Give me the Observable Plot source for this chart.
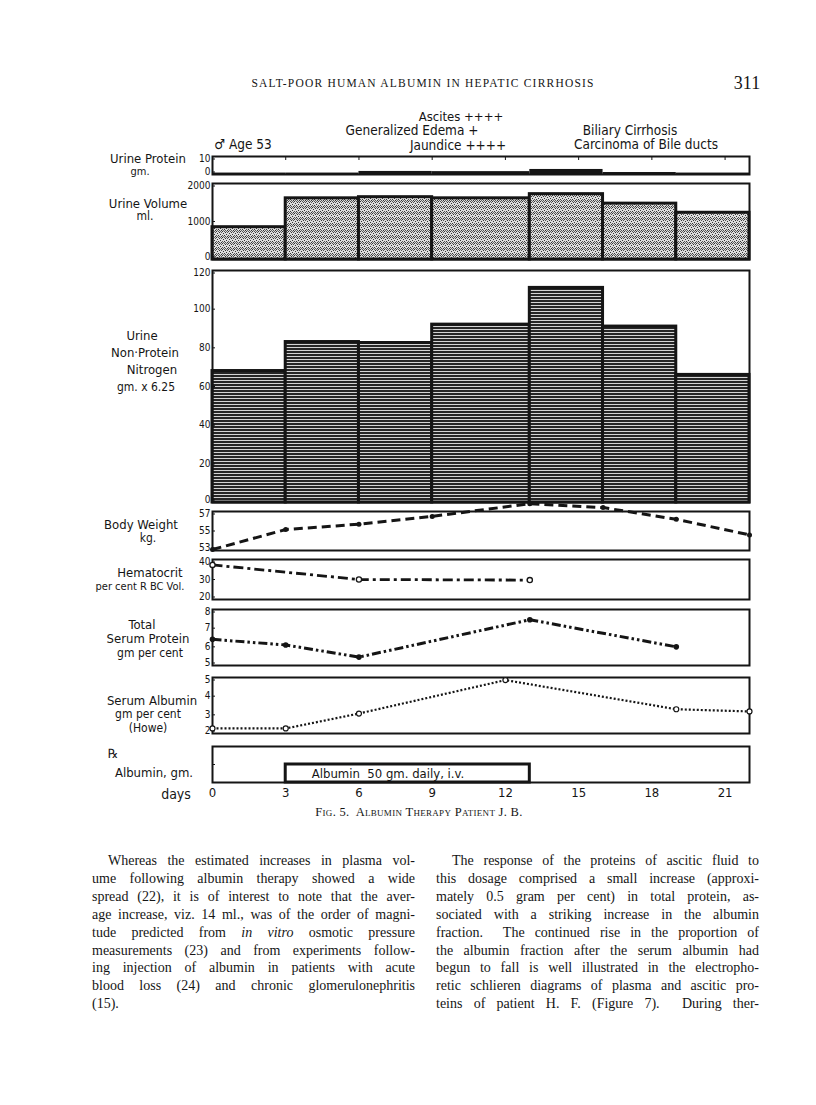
<!DOCTYPE html>
<html><head><meta charset="utf-8">
<script src="https://cdn.jsdelivr.net/npm/d3@7"></script>
<script src="https://cdn.jsdelivr.net/npm/@observablehq/plot@0.6"></script>
<style>
body{margin:0;background:#fff;}
#page{position:relative;width:816px;height:1105px;background:#fff;overflow:hidden;}
.abs{position:absolute;white-space:nowrap;line-height:1;}
.let{font-family:"DejaVu Sans Condensed","DejaVu Sans",sans-serif;color:#151515;}
.serif{font-family:"Liberation Serif","Times New Roman",serif;color:#151515;}
.line{position:absolute;white-space:nowrap;font-family:"Liberation Serif","Times New Roman",serif;color:#151515;font-size:14px;line-height:18px;text-align:justify;text-align-last:justify;}
</style></head><body><div id="page"></div>
<script>
// ---------------- data ----------------
const periodStart = [0, 3, 6, 9, 13, 16, 19];
const periodEnd   = [3, 6, 9, 13, 16, 19, 22];
const urineProtein = [0.8, 0.8, 1.7, 1.6, 2.8, 1.1, 0.8];         // gm
const urineVolume  = [850, 1610, 1640, 1610, 1720, 1470, 1230];   // ml
const urineNPN     = [68, 83, 82.5, 92, 111, 91, 66];             // gm x 6.25

const weightDays = [0, 3, 6, 9, 13, 16, 19, 22];
const bodyWeight = [53.1, 55.15, 55.7, 56.5, 57.8, 57.4, 56.2, 54.6];

const hctDays = [0, 6, 13];
const hematocrit = [37.3, 30.0, 29.7];

const tspDays = [0, 3, 6, 13, 19];
const totalSerumProtein = [6.4, 6.1, 5.45, 7.45, 6.0];

const albDays = [0, 3, 6, 12, 19, 22];
const serumAlbumin = [2.27, 2.27, 3.07, 4.86, 3.3, 3.18];

const rxStart = [3], rxEnd = [13], rxDose = [50];
const rxLabel = ["Albumin  50 gm. daily, i.v."];

const dayTicks = [0, 3, 6, 9, 12, 15, 18, 21];
const upTicks = [0, 10], uvTicks = [0, 1000, 2000], npnTicks = [0, 20, 40, 60, 80, 100, 120];
const bwTicks = [53, 55, 57], hctTicks = [20, 30, 40], tspTicks = [5, 6, 7, 8], albTicks = [2, 3, 4, 5];

// ---------------- helpers ----------------
const page = document.getElementById("page");
const periods = periodStart.map((s, i) => ({s, e: periodEnd[i], up: urineProtein[i], uv: urineVolume[i], npn: urineNPN[i]}));
const zip = (xs, ys) => xs.map((x, i) => ({x, y: ys[i]}));
const INK = "#151515";
const LET = '"DejaVu Sans Condensed","DejaVu Sans",sans-serif';

// pattern defs
const defs = document.createElementNS("http://www.w3.org/2000/svg", "svg");
defs.setAttribute("width", 0); defs.setAttribute("height", 0);
defs.style.position = "absolute";
defs.innerHTML = `<defs>
<pattern id="stipple" width="6" height="6" patternUnits="userSpaceOnUse">
<rect width="6" height="6" fill="#dcdcdc"/>
<rect x="0" y="0" width="1" height="1" fill="#333"/><rect x="3" y="1" width="1" height="1" fill="#333"/>
<rect x="1" y="2" width="1" height="1" fill="#333"/><rect x="4" y="3" width="1" height="1" fill="#333"/>
<rect x="2" y="4" width="1" height="1" fill="#333"/><rect x="5" y="5" width="1" height="1" fill="#333"/>
<rect x="5" y="1" width="1" height="1" fill="#555"/><rect x="0" y="4" width="1" height="1" fill="#555"/>
<rect x="3" y="5" width="1" height="1" fill="#555"/><rect x="2" y="0" width="1" height="1" fill="#555"/>
<rect x="4" y="0" width="1" height="1" fill="#666"/><rect x="1" y="5" width="1" height="1" fill="#666"/>
</pattern>
<pattern id="stripes" width="6" height="3" patternUnits="userSpaceOnUse">
<rect width="6" height="3" fill="#262626"/><rect y="2" width="6" height="1" fill="#d4d4d4"/>
</pattern></defs>`;
page.appendChild(defs);

function panel(top, bottom, yDomain, marks, mt = 12, mb = 12) {
  const svg = Plot.plot({
    width: 816, height: bottom - top + mt + mb,
    marginLeft: 212, marginRight: 67, marginTop: mt, marginBottom: mb,
    style: {fontFamily: LET, fontSize: "10px", color: INK, background: "transparent", overflow: "visible"},
    x: {domain: [0, 22], axis: null},
    y: {domain: yDomain, axis: null},
    marks
  });
  svg.style.position = "absolute"; svg.style.left = "0px"; svg.style.top = (top - mt) + "px";
  page.appendChild(svg);
}
// y axis: inner ticks plus end labels nudged inward so adjacent panels don't collide
const yAxis = (ticks) => {
  const lo = ticks[0], hi = ticks[ticks.length - 1];
  const common = {label: null, tickSize: -3, tickPadding: 5, fontSize: 10, tickFormat: d => String(d), stroke: INK};
  return [
    Plot.axisY(ticks.slice(1, -1), common),
    Plot.axisY([hi], {...common, dy: 2.5}),
    Plot.axisY([lo], {...common, dy: -2.5})
  ];
};
const frame = () => Plot.frame({stroke: INK, strokeWidth: 2});

function txt(s, cx, cy, cls, size, extra = "") {
  const d = document.createElement("div");
  d.className = "abs " + cls;
  d.style.cssText += `left:${cx}px;top:${cy}px;transform:translate(-50%,-50%);font-size:${size}px;${extra}`;
  d.innerHTML = s;
  page.appendChild(d);
}

// ---------------- panels ----------------
// Urine protein
panel(156, 174, [0, 10], [
  Plot.rect(periods, {x1: "s", x2: "e", y1: 0, y2: "up", fill: INK}),
  frame(),
  Plot.axisX({anchor: "top", label: null, ticks: dayTicks.slice(1), tickSize: -3, tickFormat: () => "", stroke: INK}),
  yAxis(upTicks)
]);
// Urine volume
panel(183, 259, [0, 2000], [
  Plot.rect(periods, {x1: "s", x2: "e", y1: 0, y2: "uv", fill: "url(#stipple)", stroke: INK, strokeWidth: 3}),
  frame(),
  yAxis(uvTicks)
]);
// Urine NPN
panel(270, 502, [0, 120], [
  Plot.rect(periods, {x1: "s", x2: "e", y1: 0, y2: "npn", fill: "url(#stripes)", stroke: INK, strokeWidth: 3}),
  frame(),
  yAxis(npnTicks)
]);
// Body weight
panel(511, 550, [53, 57], [
  frame(),
  yAxis(bwTicks),
  Plot.line(zip(weightDays, bodyWeight), {x: "x", y: "y", stroke: INK, strokeWidth: 3, strokeLinecap: "butt", strokeDasharray: "9,5"}),
  Plot.dot(zip(weightDays, bodyWeight), {x: "x", y: "y", r: 2.5, fill: INK})
]);
// Hematocrit
panel(559, 599, [20, 40], [
  frame(),
  yAxis(hctTicks),
  Plot.line(zip(hctDays, hematocrit), {x: "x", y: "y", stroke: INK, strokeWidth: 2.8, strokeLinecap: "butt", strokeDasharray: "10,4,3,4"}),
  Plot.dot(zip(hctDays, hematocrit), {x: "x", y: "y", r: 2.6, fill: "white", stroke: INK, strokeWidth: 1.3})
]);
// Total serum protein
panel(609, 665, [5, 8], [
  frame(),
  yAxis(tspTicks),
  Plot.line(zip(tspDays, totalSerumProtein), {x: "x", y: "y", stroke: INK, strokeWidth: 3, strokeLinecap: "butt", strokeDasharray: "9,3,2.5,3,2.5,3"}),
  Plot.dot(zip(tspDays, totalSerumProtein), {x: "x", y: "y", r: 2.8, fill: INK})
]);
// Serum albumin
panel(677, 733, [2, 5], [
  frame(),
  yAxis(albTicks),
  Plot.line(zip(albDays, serumAlbumin), {x: "x", y: "y", stroke: INK, strokeWidth: 2.2, strokeLinecap: "butt", strokeDasharray: "2,2"}),
  Plot.dot(zip(albDays, serumAlbumin), {x: "x", y: "y", r: 2.5, fill: "white", stroke: INK, strokeWidth: 1.2})
]);
// Rx albumin
const rx = rxStart.map((s, i) => ({s, e: rxEnd[i], d: rxDose[i], label: rxLabel[i]}));
panel(746, 782, [0, 100], [
  frame(),
  Plot.axisY({ticks: [50], label: null, tickSize: -3, tickFormat: () => "", stroke: INK}),
  Plot.rect(rx, {x1: "s", x2: "e", y1: 0, y2: "d", fill: "white", stroke: INK, strokeWidth: 3}),
  Plot.text(rx, {x: "s", y: d => d.d / 2, text: "label", textAnchor: "start", dx: 26, fontSize: 13, fill: INK}),
  Plot.axisX({ticks: dayTicks, label: null, tickSize: 0, tickPadding: 5, fontSize: 13, tickFormat: d => String(d)})
], 12, 24);

// ---------------- labels ----------------
txt("SALT-POOR HUMAN ALBUMIN IN HEPATIC CIRRHOSIS", 423, 84, "serif", 11.5, "letter-spacing:1.2px;");
txt("311", 747, 83, "serif", 18);

txt("Ascites ++++", 461, 116, "let", 13);
txt("Generalized Edema +", 412, 131, "let", 13.5);
txt("Jaundice ++++", 458, 145.5, "let", 13.5);
txt("♂ Age 53", 243, 145, "let", 13.5);
txt("Biliary Cirrhosis", 630, 131, "let", 13.5);
txt("Carcinoma of Bile ducts", 646, 145, "let", 13.5);

txt("Urine Protein", 148, 158, "let", 13);
txt("gm.", 140, 170.5, "let", 11);
txt("Urine Volume", 148, 203, "let", 13);
txt("ml.", 145, 216, "let", 12);
txt("Urine", 142, 335, "let", 13);
txt("Non·Protein", 145, 352, "let", 13);
txt("Nitrogen", 152, 369, "let", 13);
txt("gm. x 6.25", 146, 387, "let", 12);
txt("Body Weight", 141, 524, "let", 13);
txt("kg.", 148, 537.5, "let", 12);
txt("Hematocrit", 150, 572, "let", 13);
txt("per cent R BC Vol.", 140, 586, "let", 11);
txt("Total", 142, 624, "let", 13);
txt("Serum Protein", 148, 638, "let", 13);
txt("gm  per cent", 150, 653, "let", 12);
txt("Serum Albumin", 152, 700, "let", 13);
txt("gm per cent", 148, 713.5, "let", 12);
txt("(Howe)", 148, 728, "let", 12);
txt("℞", 113, 753, "let", 13);
txt("Albumin, gm.", 154, 772, "let", 13);
txt("days", 176, 794, "let", 14);

txt("Fig. 5.&nbsp; Albumin Therapy Patient J. B.", 419, 812, "serif", 12.5, "font-variant:small-caps;letter-spacing:0.3px;");

// ---------------- body text ----------------
const leftCol = [
  "Whereas the estimated increases in plasma vol-",
  "ume following albumin therapy showed a wide",
  "spread (22), it is of interest to note that the aver-",
  "age increase, viz. 14 ml., was of the order of magni-",
  "tude predicted from <i>in vitro</i> osmotic pressure",
  "measurements (23) and from experiments follow-",
  "ing injection of albumin in patients with acute",
  "blood loss (24) and chronic glomerulonephritis",
  "(15)."
];
const rightCol = [
  "The response of the proteins of ascitic fluid to",
  "this dosage comprised a small increase (approxi-",
  "mately 0.5 gram per cent) in total protein, as-",
  "sociated with a striking increase in the albumin",
  "fraction.&nbsp; The continued rise in the proportion of",
  "the albumin fraction after the serum albumin had",
  "begun to fall is well illustrated in the electropho-",
  "retic schlieren diagrams of plasma and ascitic pro-",
  "teins of patient H. F. (Figure 7).&nbsp; During ther-"
];
function column(lines, left, width, lastLeft) {
  lines.forEach((s, i) => {
    const d = document.createElement("div");
    d.className = "line";
    const indent = i === 0 ? 16 : 0;
    d.style.left = (left + indent) + "px";
    d.style.width = (width - indent) + "px";
    d.style.top = (852 + i * 17.9) + "px";
    if (lastLeft && i === lines.length - 1) d.style.textAlignLast = "left";
    d.innerHTML = s;
    page.appendChild(d);
  });
}
column(leftCol, 92, 323, true);
column(rightCol, 436, 323, false);
</script></body></html>
